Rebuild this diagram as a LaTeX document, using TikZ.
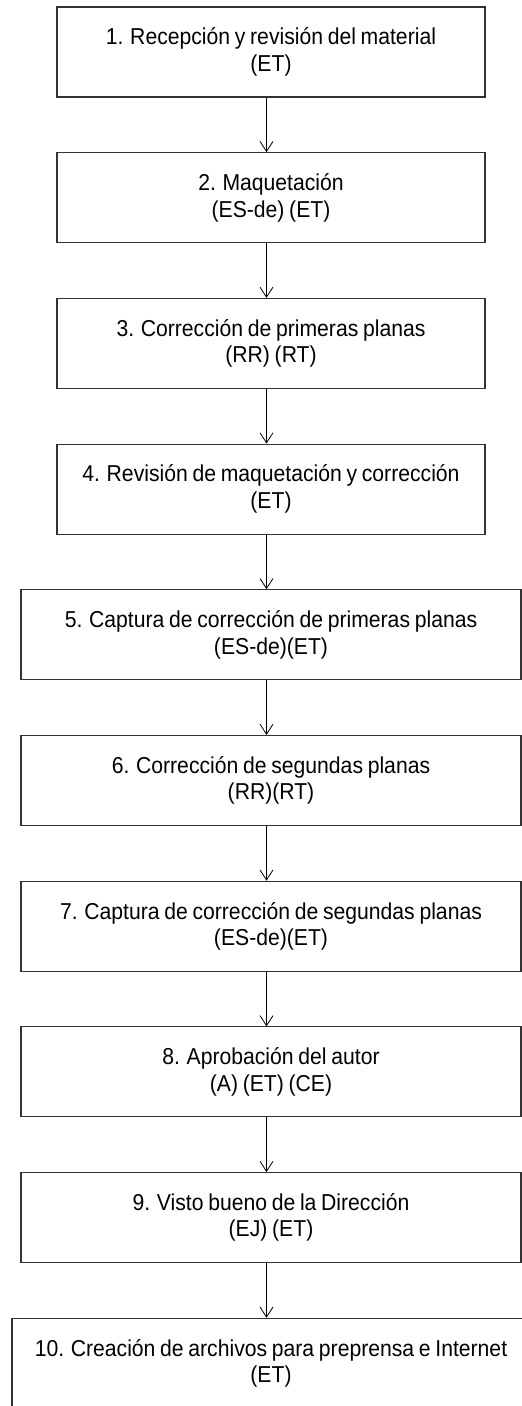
\documentclass[tikz,border=0pt]{standalone}
\usepackage{fontspec}
\setmainfont[FakeStretch=0.92, WordSpace=0.8]{Liberation Sans}
\usetikzlibrary{arrows.meta}

\tikzset{
    etapa/.style={draw=black!80, line width=1.1pt, minimum height=90pt, inner sep=0pt,
        align=center, font=\fontsize{23}{26.5}\selectfont},
    flecha/.style={draw=black, line width=0.8pt, -{Straight Barb[length=10pt,width=13pt]}}
}

\begin{document}
\begin{tikzpicture}[x=1pt, y=-1pt]
    \useasboundingbox (0,0) rectangle (522,1406);
    \foreach \n/\w/\txt in {
        1/428/{1. Recepción y revisión del material\\(ET)},
        2/428/{2. Maquetación\\(ES-de) (ET)},
        3/428/{3. Corrección de primeras planas\\(RR) (RT)},
        4/428/{4. Revisión de maquetación y corrección\\(ET)},
        5/500/{5. Captura de corrección de primeras planas\\(ES-de)(ET)},
        6/500/{6. Corrección de segundas planas\\(RR)(RT)},
        7/500/{7. Captura de corrección de segundas planas\\(ES-de)(ET)},
        8/500/{8. Aprobación del autor\\(A) (ET) (CE)},
        9/500/{9. Visto bueno de la Dirección\\(EJ) (ET)},
        10/518/{10. Creación de archivos para preprensa e Internet\\(ET)}}
    {
        \node [etapa, minimum width=\w pt] (p\n) at (271, {52+(\n-1)*145.7}) {\txt};
    }
    \foreach \a/\b in {1/2, 2/3, 3/4, 4/5, 5/6, 6/7, 7/8, 8/9, 9/10}
    {
        \draw [flecha] ([xshift=-4.5pt]p\a.south) -- ([xshift=-4.5pt]p\b.north);
    }
\end{tikzpicture}
\end{document}
